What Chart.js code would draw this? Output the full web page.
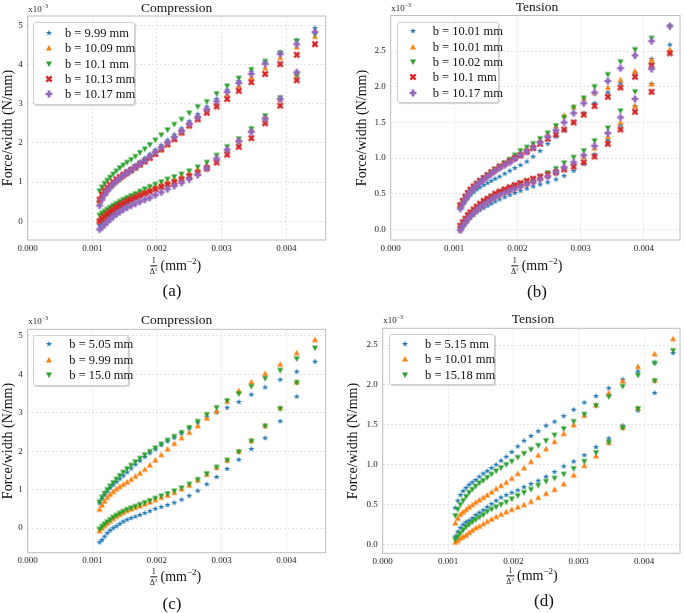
<!DOCTYPE html>
<html><head><meta charset="utf-8">
<script src="https://cdn.jsdelivr.net/npm/chart.js@4/dist/chart.umd.min.js"></script>
<style>
body{margin:0;background:#fff;width:685px;height:613px;position:relative;overflow:hidden;font-family:"Liberation Serif","Times New Roman",serif;color:#111}
.t{position:absolute;white-space:nowrap;transform:translate(-50%,-50%);line-height:1}
.off{position:absolute;white-space:nowrap;font-size:9px;line-height:1;color:#222}
.off sup{font-size:6px;vertical-align:4px}
.yl{transform:translate(-50%,-50%) rotate(-90deg);font-size:14px}
.frac{display:inline-block;vertical-align:middle;text-align:center;font-size:8px;line-height:8px;margin-right:3px}
.frac span{display:block}
.frac .num{border-bottom:0.8px solid #111;padding:0 1px}
.frac sup{font-size:5px;vertical-align:3px}
.xl{font-size:14px}
.xl sup.m{font-size:9px;vertical-align:6px}
.leg{position:absolute;background:#fff;border:1px solid #cfcfcf;border-radius:3px;box-shadow:1px 1px 1px rgba(0,0,0,0.18)}
.leg .row{position:absolute;left:0;height:14px;line-height:14px;font-size:12.5px;white-space:nowrap}
.leg canvas{position:absolute}
</style>
</head><body>
<script>
// ---------- shared axis data ----------
const X_TICKS = [0, 1, 2, 3, 4];                 // units of 1e-3 mm^-2
const X_TICK_LABELS = ["0.000", "0.001", "0.002", "0.003", "0.004"];
const Y_TICKS_AC = [0, 1, 2, 3, 4, 5];
const Y_TICK_LABELS_AC = ["0", "1", "2", "3", "4", "5"];
const Y_TICKS_BD = [0, 0.5, 1.0, 1.5, 2.0, 2.5];
const Y_TICK_LABELS_BD = ["0.0", "0.5", "1.0", "1.5", "2.0", "2.5"];

// x positions (1e-3 mm^-2); upper branch uses all, lower branch uses first 30
const xA = [1.111,1.149,1.189,1.231,1.276,1.322,1.372,1.424,1.479,1.538,1.600,1.666,1.736,1.811,1.890,1.975,2.066,2.163,2.268,2.380,2.500,2.630,2.770,2.922,3.086,3.265,3.460,3.673,3.906,4.162,4.444];
const xB = [1.10,1.14,1.18,1.22,1.26,1.31,1.36,1.41,1.47,1.53,1.59,1.65,1.72,1.80,1.88,1.96,2.05,2.15,2.25,2.36,2.48,2.61,2.74,2.89,3.05,3.22,3.43,3.63,3.86,4.12,4.41];
const xC = [1.111,1.149,1.189,1.231,1.276,1.322,1.372,1.424,1.479,1.538,1.600,1.666,1.736,1.811,1.890,1.975,2.066,2.163,2.268,2.380,2.500,2.630,2.770,2.922,3.086,3.265,3.460,3.673,3.906,4.162,4.444];
const xD = [1.111,1.149,1.189,1.231,1.276,1.322,1.372,1.424,1.479,1.538,1.600,1.666,1.736,1.811,1.890,1.975,2.066,2.163,2.268,2.380,2.500,2.630,2.770,2.922,3.086,3.265,3.460,3.673,3.906,4.162,4.444];

// ---------- (a) Compression ----------
const labelsA = ["b = 9.99 mm", "b = 10.09 mm", "b = 10.1 mm", "b = 10.13 mm", "b = 10.17 mm"];
const aBlueUp   = [0.50,0.62,0.72,0.81,0.89,0.97,1.05,1.12,1.20,1.27,1.35,1.43,1.52,1.61,1.71,1.82,1.94,2.07,2.21,2.37,2.55,2.73,2.92,3.12,3.35,3.58,3.82,4.06,4.32,4.62,4.93];
const aOrangeUp = [0.50,0.62,0.72,0.80,0.88,0.95,1.02,1.09,1.15,1.22,1.29,1.36,1.44,1.52,1.61,1.71,1.82,1.95,2.09,2.25,2.43,2.63,2.82,3.02,3.24,3.46,3.68,3.92,4.18,4.45,4.72];
const aGreenUp  = [0.77,0.87,0.96,1.04,1.12,1.20,1.28,1.36,1.43,1.50,1.57,1.65,1.75,1.84,1.95,2.07,2.20,2.33,2.47,2.60,2.76,2.92,3.05,3.25,3.45,3.65,3.87,4.08,4.29,4.60,4.77];
const aRedUp    = [0.55,0.68,0.78,0.86,0.93,1.00,1.07,1.13,1.19,1.25,1.31,1.38,1.45,1.53,1.62,1.72,1.84,1.97,2.10,2.27,2.45,2.60,2.77,2.93,3.12,3.33,3.55,3.76,4.01,4.25,4.52];
const aPurpleUp = [0.40,0.55,0.67,0.77,0.86,0.94,1.02,1.09,1.16,1.23,1.30,1.38,1.46,1.55,1.65,1.76,1.88,2.01,2.15,2.30,2.48,2.66,2.86,3.06,3.30,3.53,3.76,4.02,4.27,4.52,4.83];
const aBlueLo   = [-0.10,-0.03,0.04,0.10,0.16,0.22,0.28,0.34,0.40,0.46,0.52,0.58,0.64,0.70,0.76,0.82,0.88,0.95,1.02,1.10,1.18,1.28,1.40,1.58,1.80,2.02,2.30,2.65,3.10,3.80];
const aOrangeLo = [0.05,0.11,0.17,0.23,0.29,0.35,0.41,0.46,0.51,0.56,0.61,0.66,0.71,0.76,0.82,0.88,0.94,1.00,1.07,1.14,1.22,1.32,1.44,1.60,1.82,2.05,2.33,2.68,3.12,3.75];
const aGreenLo  = [0.15,0.20,0.25,0.30,0.35,0.40,0.45,0.50,0.55,0.60,0.65,0.70,0.76,0.82,0.88,0.94,1.00,1.07,1.13,1.20,1.28,1.38,1.50,1.68,1.90,2.10,2.36,2.69,3.15,3.72];
const aRedLo    = [0.00,0.06,0.12,0.18,0.24,0.30,0.36,0.41,0.46,0.51,0.56,0.61,0.66,0.71,0.76,0.82,0.88,0.94,1.00,1.07,1.15,1.24,1.35,1.50,1.70,1.90,2.12,2.50,2.95,3.60];
const aPurpleLo = [-0.21,-0.15,-0.09,-0.02,0.05,0.12,0.18,0.24,0.30,0.35,0.40,0.45,0.50,0.55,0.60,0.67,0.74,0.82,0.90,0.98,1.07,1.18,1.35,1.60,1.83,2.05,2.28,2.62,3.12,3.80];

// ---------- (b) Tension ----------
const labelsB = ["b = 10.01 mm", "b = 10.01 mm", "b = 10.02 mm", "b = 10.1 mm", "b = 10.17 mm"];
const bBlueUp   = [0.30,0.35,0.40,0.44,0.48,0.52,0.56,0.59,0.62,0.65,0.68,0.71,0.74,0.78,0.82,0.86,0.90,0.95,1.02,1.10,1.20,1.30,1.39,1.50,1.63,1.77,1.92,2.05,2.20,2.39,2.59];
const bOrangeUp = [0.32,0.39,0.45,0.50,0.55,0.60,0.64,0.68,0.72,0.76,0.80,0.84,0.88,0.92,0.96,1.01,1.06,1.12,1.18,1.25,1.34,1.45,1.60,1.72,1.84,1.92,1.99,2.10,2.22,2.38,2.52];
const bGreenUp  = [0.33,0.39,0.45,0.50,0.55,0.60,0.64,0.68,0.72,0.76,0.80,0.84,0.88,0.93,0.98,1.04,1.10,1.15,1.20,1.27,1.35,1.45,1.57,1.71,1.84,2.00,2.17,2.35,2.52,2.68,2.84];
const bRedUp    = [0.34,0.40,0.46,0.51,0.56,0.60,0.64,0.68,0.72,0.76,0.80,0.84,0.88,0.92,0.96,1.00,1.04,1.09,1.14,1.20,1.27,1.33,1.40,1.50,1.61,1.73,1.86,1.99,2.14,2.30,2.47];
const bPurpleUp = [0.29,0.36,0.42,0.48,0.53,0.58,0.62,0.66,0.70,0.74,0.78,0.82,0.86,0.90,0.94,0.99,1.04,1.09,1.15,1.22,1.30,1.39,1.50,1.63,1.77,1.92,2.08,2.26,2.44,2.64,2.85];
const bBlueLo   = [-0.02,0.03,0.08,0.12,0.16,0.20,0.24,0.27,0.30,0.33,0.36,0.39,0.42,0.45,0.48,0.51,0.54,0.57,0.60,0.63,0.66,0.70,0.75,0.82,0.92,1.05,1.25,1.46,1.73,2.04];
const bOrangeLo = [0.00,0.06,0.11,0.16,0.20,0.24,0.28,0.32,0.36,0.39,0.43,0.46,0.49,0.52,0.55,0.58,0.61,0.64,0.67,0.71,0.75,0.80,0.86,0.93,1.02,1.14,1.30,1.50,1.73,2.04];
const bGreenLo  = [0.02,0.08,0.13,0.18,0.22,0.26,0.30,0.34,0.38,0.42,0.46,0.49,0.52,0.55,0.58,0.61,0.64,0.67,0.70,0.74,0.79,0.85,0.93,1.01,1.10,1.24,1.42,1.66,1.93,2.30];
const bRedLo    = [0.05,0.10,0.15,0.20,0.24,0.28,0.32,0.36,0.40,0.43,0.46,0.50,0.53,0.56,0.59,0.62,0.65,0.68,0.71,0.74,0.77,0.80,0.84,0.88,0.94,1.02,1.20,1.40,1.65,1.93];
const bPurpleLo = [-0.01,0.05,0.10,0.15,0.19,0.23,0.27,0.31,0.35,0.38,0.42,0.45,0.48,0.51,0.54,0.57,0.60,0.63,0.66,0.70,0.74,0.80,0.87,0.94,1.04,1.17,1.35,1.57,1.83,2.25];

// ---------- (c) Compression ----------
const labelsC = ["b = 5.05 mm", "b = 9.99 mm", "b = 15.0 mm"];
const cBlueUp   = [0.65,0.76,0.86,0.95,1.04,1.12,1.20,1.28,1.36,1.45,1.55,1.65,1.75,1.85,1.95,2.05,2.16,2.26,2.35,2.47,2.60,2.75,2.90,3.01,3.13,3.28,3.47,3.66,3.86,4.07,4.33];
const cOrangeUp = [0.49,0.60,0.70,0.80,0.88,0.95,1.02,1.08,1.14,1.20,1.27,1.35,1.43,1.53,1.64,1.77,1.91,2.06,2.20,2.35,2.49,2.66,2.86,3.05,3.30,3.57,3.80,4.02,4.26,4.56,4.90];
const cGreenUp  = [0.68,0.80,0.90,1.00,1.09,1.18,1.27,1.36,1.45,1.54,1.63,1.72,1.81,1.90,1.99,2.08,2.18,2.28,2.38,2.48,2.61,2.77,2.95,3.13,3.31,3.49,3.68,3.89,4.10,4.40,4.68];
const cBlueLo   = [-0.37,-0.31,-0.22,-0.13,-0.06,0.00,0.05,0.11,0.17,0.22,0.26,0.30,0.34,0.39,0.44,0.50,0.55,0.60,0.66,0.74,0.84,0.97,1.14,1.33,1.54,1.78,2.06,2.34,2.78,3.42];
const cOrangeLo = [-0.07,0.00,0.07,0.13,0.19,0.25,0.31,0.36,0.41,0.46,0.50,0.54,0.58,0.63,0.68,0.74,0.80,0.86,0.93,1.02,1.12,1.25,1.40,1.58,1.77,2.00,2.28,2.67,3.13,3.80];
const cGreenLo  = [-0.03,0.04,0.10,0.16,0.22,0.28,0.33,0.38,0.43,0.48,0.52,0.56,0.61,0.66,0.71,0.77,0.83,0.89,0.96,1.04,1.14,1.26,1.41,1.58,1.76,1.98,2.26,2.65,3.10,3.78];

// ---------- (d) Tension ----------
const labelsD = ["b = 5.15 mm", "b = 10.01 mm", "b = 15.18 mm"];
const dBlueUp   = [0.46,0.55,0.62,0.67,0.71,0.75,0.78,0.81,0.85,0.89,0.92,0.96,1.00,1.05,1.10,1.16,1.23,1.30,1.36,1.42,1.49,1.54,1.61,1.69,1.78,1.86,1.96,2.07,2.17,2.28,2.40];
const dOrangeUp = [0.27,0.33,0.38,0.41,0.44,0.47,0.50,0.53,0.56,0.59,0.62,0.66,0.70,0.74,0.78,0.83,0.89,0.96,1.04,1.12,1.20,1.29,1.39,1.50,1.62,1.75,1.90,2.05,2.23,2.39,2.58];
const dGreenUp  = [0.36,0.44,0.50,0.55,0.60,0.65,0.69,0.73,0.77,0.80,0.84,0.88,0.92,0.96,1.00,1.04,1.09,1.14,1.19,1.24,1.30,1.37,1.45,1.54,1.63,1.74,1.85,1.98,2.12,2.27,2.43];
const dBlueLo   = [0.10,0.16,0.21,0.25,0.28,0.30,0.33,0.37,0.40,0.43,0.47,0.51,0.55,0.59,0.62,0.65,0.68,0.72,0.76,0.80,0.85,0.91,0.98,1.04,1.12,1.22,1.33,1.49,1.68,1.90];
const dOrangeLo = [0.03,0.05,0.08,0.10,0.12,0.15,0.18,0.21,0.23,0.26,0.29,0.32,0.35,0.38,0.41,0.44,0.47,0.50,0.54,0.59,0.64,0.69,0.76,0.87,0.99,1.11,1.28,1.47,1.71,2.06];
const dGreenLo  = [0.06,0.10,0.14,0.18,0.22,0.25,0.28,0.31,0.34,0.37,0.41,0.44,0.47,0.50,0.53,0.57,0.61,0.65,0.69,0.74,0.79,0.83,0.88,0.95,1.04,1.15,1.28,1.46,1.70,2.05];

// ---------- styling ----------
const COLORS = ['#1f77b4', '#ff7f0e', '#2ca02c', '#d62728', '#9467bd'];
const SHAPES = ['star', 'tri', 'tridown', 'X', 'P'];
const FONT = '"Liberation Serif", "Times New Roman", serif';
Chart.defaults.font.family = FONT;

function drawMarker(g, kind, color) {
  g.fillStyle = color;
  g.beginPath();
  if (kind === 'star') {
    for (let i = 0; i < 10; i++) {
      const r = i % 2 ? 1.3 : 3.2, a = -Math.PI / 2 + i * Math.PI / 5;
      g.lineTo(r * Math.cos(a), r * Math.sin(a));
    }
  } else if (kind === 'tri') {
    g.moveTo(0, -3.0); g.lineTo(3.0, 2.4); g.lineTo(-3.0, 2.4);
  } else if (kind === 'tridown') {
    g.moveTo(0, 3.0); g.lineTo(3.0, -2.4); g.lineTo(-3.0, -2.4);
  } else {
    const w = kind === 'P' ? 1.35 : 1.2, L = kind === 'P' ? 3.4 : 3.6;
    const pts = [[-w,-L],[w,-L],[w,-w],[L,-w],[L,w],[w,w],[w,L],[-w,L],[-w,w],[-L,w],[-L,-w],[-w,-w]];
    const rot = kind === 'X' ? Math.PI / 4 : 0, c = Math.cos(rot), s = Math.sin(rot);
    pts.forEach(([x, y]) => g.lineTo(x * c - y * s, x * s + y * c));
  }
  g.closePath(); g.fill();
}
function markerCanvas(kind, color) {
  const c = document.createElement('canvas'); c.width = 12; c.height = 12;
  const g = c.getContext('2d'); g.translate(6, 6); drawMarker(g, kind, color);
  return c;
}

const framePlugin = {
  id: 'frame',
  afterDraw(ch) {
    const { ctx, chartArea: a } = ch;
    ctx.save(); ctx.strokeStyle = '#bdbdbd'; ctx.lineWidth = 1;
    ctx.strokeRect(a.left, a.top, a.right - a.left, a.bottom - a.top);
    ctx.restore();
  }
};

function addText(html, cls, cx, cy, extra) {
  const d = document.createElement('div');
  d.className = 't ' + (cls || ''); d.innerHTML = html;
  d.style.left = cx + 'px'; d.style.top = cy + 'px';
  if (extra) d.style.cssText += extra;
  document.body.appendChild(d);
}

function panel(p) {
  const YW = 25, XH = 16;
  const cv = document.createElement('canvas');
  cv.width = p.box.w; cv.height = p.box.h;
  cv.style.cssText = `position:absolute;left:${p.box.left}px;top:${p.box.top}px`;
  document.body.appendChild(cv);
  const datasets = p.series.map((s, i) => ({
    label: p.labels[i],
    data: s.up.map((y, k) => ({ x: p.x[k], y })).concat(s.lo.map((y, k) => ({ x: p.x[k], y }))),
    pointStyle: markerCanvas(SHAPES[i], COLORS[i]),
    pointRadius: 4, order: -i, showLine: false
  }));
  const gridOpts = { color: '#dedede', lineWidth: 0.8, drawTicks: false };
  new Chart(cv, {
    type: 'scatter',
    data: { datasets },
    options: {
      responsive: false, animation: false, events: [],
      layout: { padding: {
        left: p.area.l - p.box.left - YW,
        top: p.area.t - p.box.top,
        right: p.box.left + p.box.w - p.area.r,
        bottom: p.box.top + p.box.h - p.area.b - XH } },
      plugins: { legend: { display: false }, tooltip: { enabled: false } },
      scales: {
        x: {
          type: 'linear', min: p.xr[0], max: p.xr[1],
          afterFit: s => { s.height = XH; },
          afterBuildTicks: s => { s.ticks = X_TICKS.map(v => ({ value: v })); },
          ticks: { callback: (v, i) => X_TICK_LABELS[i], font: { size: 9 }, color: '#222', padding: 3, maxRotation: 0, autoSkip: false },
          grid: gridOpts, border: { display: false, dash: [2, 2] }
        },
        y: {
          type: 'linear', min: p.yr[0], max: p.yr[1],
          afterFit: s => { s.width = YW; },
          afterBuildTicks: s => { s.ticks = p.yTicks.map(v => ({ value: v })); },
          ticks: { callback: (v, i) => p.yLabels[i], font: { size: 9 }, color: '#222', padding: 5, autoSkip: false },
          grid: gridOpts, border: { display: false, dash: [2, 2] }
        }
      }
    },
    plugins: [framePlugin]
  });

  const cx = (p.area.l + p.area.r) / 2;
  addText(p.title, '', cx, p.titleY, 'font-size:13.5px');
  const off = document.createElement('div');
  off.className = 'off'; off.innerHTML = 'x10<sup>−3</sup>';
  off.style.left = (p.area.l + 0.5) + 'px'; off.style.top = (p.titleY - 5) + 'px';
  document.body.appendChild(off);
  addText('Force/width (N/mm)', 'yl', p.ylabX, (p.area.t + p.area.b) / 2);
  addText('<span class="frac"><span class="num">1</span><span>Δ<sup>2</sup></span></span>(mm<sup class="m">−2</sup>)', 'xl', p.xlabX, p.xlabY);
  addText(p.caption, '', p.capX, p.capY, 'font-size:17px');

  // legend inside axes
  const L = p.legend;
  const box = document.createElement('div'); box.className = 'leg';
  box.style.cssText += `left:${L.left}px;top:${L.top}px;width:${L.w}px;height:${L.h}px`;
  p.labels.forEach((lab, i) => {
    const cy = L.row0 + i * L.dy;
    const m = markerCanvas(SHAPES[i], COLORS[i]);
    m.style.left = (L.mx - 6) + 'px'; m.style.top = (cy - 6) + 'px';
    box.appendChild(m);
    const r = document.createElement('div'); r.className = 'row';
    r.style.left = L.tx + 'px'; r.style.top = (cy - 7) + 'px'; r.textContent = lab;
    box.appendChild(r);
  });
  document.body.appendChild(box);
}

panel({
  box: { left: 0, top: 0, w: 335, h: 262 }, area: { l: 27.7, t: 16, r: 325.7, b: 240 },
  xr: [0, 4.61], yr: [-0.48, 5.24], yTicks: Y_TICKS_AC, yLabels: Y_TICK_LABELS_AC, x: xA,
  labels: labelsA,
  series: [
    { up: aBlueUp, lo: aBlueLo }, { up: aOrangeUp, lo: aOrangeLo }, { up: aGreenUp, lo: aGreenLo },
    { up: aRedUp, lo: aRedLo }, { up: aPurpleUp, lo: aPurpleLo }],
  title: 'Compression', titleY: 8, ylabX: 8, xlabX: 175.5, xlabY: 267, caption: '(a)', capX: 172, capY: 289.5,
  legend: { left: 33.3, top: 22, w: 100, h: 81, row0: 10, dy: 15.3, mx: 14.7, tx: 30.7 }
});
panel({
  box: { left: 360, top: 0, w: 325, h: 262 }, area: { l: 390.7, t: 15.5, r: 683.5, b: 240 },
  xr: [0, 4.57], yr: [-0.15, 3.0], yTicks: Y_TICKS_BD, yLabels: Y_TICK_LABELS_BD, x: xB,
  labels: labelsB,
  series: [
    { up: bBlueUp, lo: bBlueLo }, { up: bOrangeUp, lo: bOrangeLo }, { up: bGreenUp, lo: bGreenLo },
    { up: bRedUp, lo: bRedLo }, { up: bPurpleUp, lo: bPurpleLo }],
  title: 'Tension', titleY: 6.5, ylabX: 362, xlabX: 536.7, xlabY: 266.5, caption: '(b)', capX: 537, capY: 290.5,
  legend: { left: 396.7, top: 21.7, w: 100.5, h: 79, row0: 8.5, dy: 15.4, mx: 15, tx: 35 }
});
panel({
  box: { left: 0, top: 310, w: 335, h: 262 }, area: { l: 27.7, t: 329.3, r: 325.7, b: 552.7 },
  xr: [0, 4.61], yr: [-0.64, 5.17], yTicks: Y_TICKS_AC, yLabels: Y_TICK_LABELS_AC, x: xC,
  labels: labelsC,
  series: [{ up: cBlueUp, lo: cBlueLo }, { up: cOrangeUp, lo: cOrangeLo }, { up: cGreenUp, lo: cGreenLo }],
  title: 'Compression', titleY: 320, ylabX: 8, xlabX: 175.5, xlabY: 578, caption: '(c)', capX: 172, capY: 602.5,
  legend: { left: 33.3, top: 335, w: 94, h: 48.5, row0: 8.3, dy: 15.4, mx: 15, tx: 35 }
});
panel({
  box: { left: 355, top: 310, w: 330, h: 262 }, area: { l: 382.7, t: 328.3, r: 683.3, b: 553.3 },
  xr: [0, 4.55], yr: [-0.11, 2.71], yTicks: Y_TICKS_BD, yLabels: Y_TICK_LABELS_BD, x: xD,
  labels: labelsD,
  series: [{ up: dBlueUp, lo: dBlueLo }, { up: dOrangeUp, lo: dOrangeLo }, { up: dGreenUp, lo: dGreenLo }],
  title: 'Tension', titleY: 318.5, ylabX: 353, xlabX: 532, xlabY: 577, caption: '(d)', capX: 544, capY: 600,
  legend: { left: 389, top: 334, w: 103.5, h: 48.5, row0: 8.7, dy: 15.4, mx: 15, tx: 35 }
});
</script>
</body></html>
